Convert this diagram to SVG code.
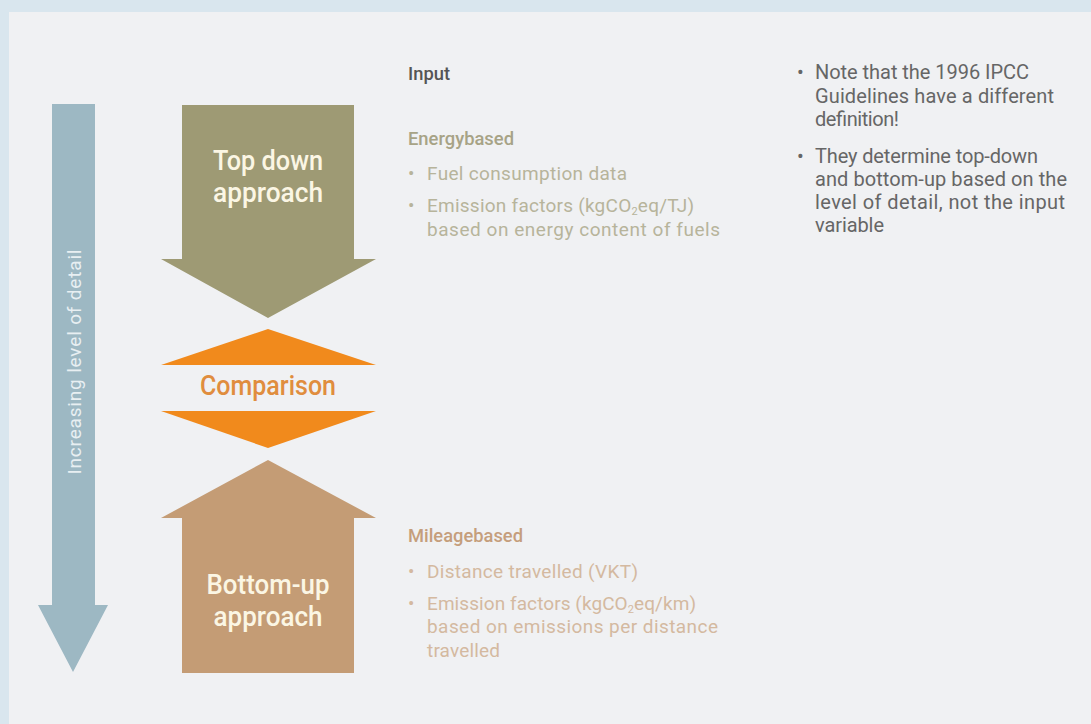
<svg xmlns="http://www.w3.org/2000/svg" width="1091" height="724" viewBox="0 0 1091 724">
  <style>
    text { font-family: Roboto, "Liberation Sans", sans-serif; }
    .big { font-size: 28px; font-weight: 500; fill: #fbf6e4; text-anchor: middle; }
    .hd { font-size: 19px; font-weight: 500; }
    .tx { font-size: 19px; }
    .dark { fill: #555555; }
    .olh { fill: #a7a386; }
    .olt { fill: #b7b49b; }
    .tnh { fill: #c59e7c; }
    .tnt { fill: #d4b9a0; }
    .note { fill: #666666; font-size: 20px; }
  </style>
  <rect x="0" y="0" width="1091" height="724" fill="#d9e6ee"/>
  <rect x="9" y="12" width="1082" height="712" fill="#f0f1f3"/>

  <g id="detail-arrow">
    <polygon points="52,104 95,104 95,605 108,605 73,672 38,605 52,605" fill="#9db8c3"/>
    <text transform="translate(74,362) rotate(-90)" font-size="19" text-anchor="middle" dominant-baseline="central" fill="#e8eff2" textLength="225" lengthAdjust="spacing">Increasing level of detail</text>
  </g>

  <g id="top-down">
    <polygon points="182,105 354,105 354,259 376,259 268,318 161,259 182,259" fill="#9e9a74"/>
    <text class="big" x="268" y="170" textLength="110" lengthAdjust="spacingAndGlyphs">Top down</text>
    <text class="big" x="268" y="202" textLength="110" lengthAdjust="spacingAndGlyphs">approach</text>
  </g>

  <g id="comparison">
    <polygon points="268,329 376,365 161,365" fill="#f18a1c"/>
    <polygon points="161,411 376,411 268,448" fill="#f18a1c"/>
    <text x="268" y="395" text-anchor="middle" font-size="27" font-weight="500" fill="#e08d3e" textLength="136" lengthAdjust="spacingAndGlyphs">Comparison</text>
  </g>

  <g id="bottom-up">
    <polygon points="268,460 376,518 354,518 354,673 182,673 182,518 161,518" fill="#c49c75"/>
    <text class="big" x="268" y="594" textLength="123" lengthAdjust="spacingAndGlyphs">Bottom-up</text>
    <text class="big" x="268" y="626" textLength="109" lengthAdjust="spacingAndGlyphs">approach</text>
  </g>

  <g id="input-energy">
    <text class="hd dark" x="408" y="80" textLength="42" lengthAdjust="spacingAndGlyphs">Input</text>
    <text class="hd olh" x="408" y="145" textLength="106" lengthAdjust="spacingAndGlyphs">Energybased</text>
    <text class="tx olt" x="408" y="180">•</text>
    <text class="tx olt" x="427" y="180" textLength="200" lengthAdjust="spacing">Fuel consumption data</text>
    <text class="tx olt" x="408" y="212">•</text>
    <text class="tx olt" x="427" y="212" textLength="267" lengthAdjust="spacing">Emission factors (kgCO<tspan font-size="11" dy="3">2</tspan><tspan dy="-3">eq/TJ)</tspan></text>
    <text class="tx olt" x="427" y="236" textLength="293" lengthAdjust="spacing">based on energy content of fuels</text>
  </g>

  <g id="input-mileage">
    <text class="hd tnh" x="408" y="542" textLength="115" lengthAdjust="spacingAndGlyphs">Mileagebased</text>
    <text class="tx tnt" x="408" y="578">•</text>
    <text class="tx tnt" x="427" y="578" textLength="211" lengthAdjust="spacing">Distance travelled (VKT)</text>
    <text class="tx tnt" x="408" y="610">•</text>
    <text class="tx tnt" x="427" y="610" textLength="269" lengthAdjust="spacing">Emission factors (kgCO<tspan font-size="11" dy="3">2</tspan><tspan dy="-3">eq/km)</tspan></text>
    <text class="tx tnt" x="427" y="633" textLength="291" lengthAdjust="spacing">based on emissions per distance</text>
    <text class="tx tnt" x="427" y="657" textLength="73" lengthAdjust="spacing">travelled</text>
  </g>

  <g id="notes">
    <text class="note" x="797" y="79">•</text>
    <text class="note" x="815" y="79" textLength="214" lengthAdjust="spacing">Note that the 1996 IPCC</text>
    <text class="note" x="815" y="103" textLength="239" lengthAdjust="spacing">Guidelines have a different</text>
    <text class="note" x="815" y="126" textLength="84" lengthAdjust="spacing">definition!</text>
    <text class="note" x="797" y="163">•</text>
    <text class="note" x="815" y="163" textLength="223" lengthAdjust="spacing">They determine top-down</text>
    <text class="note" x="815" y="186" textLength="252" lengthAdjust="spacing">and bottom-up based on the</text>
    <text class="note" x="815" y="209" textLength="250" lengthAdjust="spacing">level of detail, not the input</text>
    <text class="note" x="815" y="232" textLength="69" lengthAdjust="spacing">variable</text>
  </g>
</svg>
